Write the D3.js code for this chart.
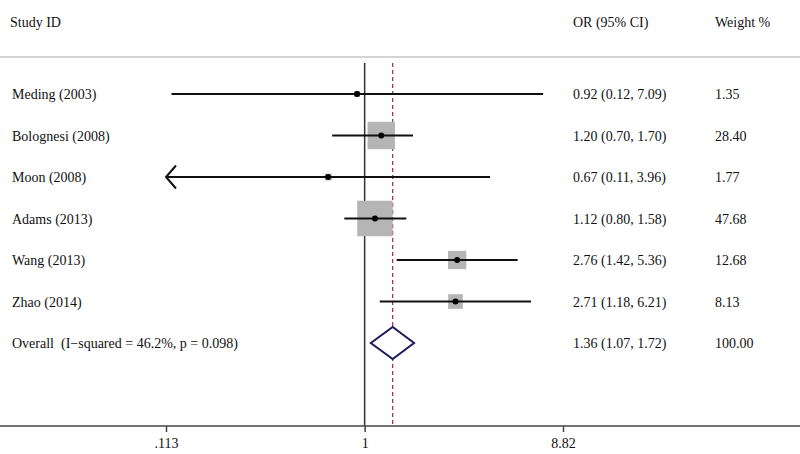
<!DOCTYPE html>
<html>
<head>
<meta charset="utf-8">
<script src="https://cdn.jsdelivr.net/npm/d3@7"></script>
<style>
  body { margin: 0; background: #fff; }
  svg { display: block; font-family: "Liberation Serif", "DejaVu Serif", serif; }
  text { fill: #111; font-size: 14px; white-space: pre; }
</style>
</head>
<body>
<svg id="chart" width="800" height="454"></svg>
<script>
// data
const studies = ["Meding (2003)", "Bolognesi (2008)", "Moon (2008)", "Adams (2013)", "Wang (2013)", "Zhao (2014)"];
const orVals  = [0.92, 1.20, 0.67, 1.12, 2.76, 2.71];
const ciLow   = [0.12, 0.70, 0.11, 0.80, 1.42, 1.18];
const ciHigh  = [7.09, 1.70, 3.96, 1.58, 5.36, 6.21];
const weights = [1.35, 28.40, 1.77, 47.68, 12.68, 8.13];
const overall = { label: "Overall  (I\u2212squared = 46.2%, p = 0.098)", or: 1.36, lo: 1.07, hi: 1.72, w: 100 };
const tickVals = [0.113, 1, 8.82];
const tickLabels = [".113", "1", "8.82"];

const svg = d3.select("#chart");
const W = 800;

const x = d3.scaleLog().domain([0.113, 8.82]).range([166, 563]);
const y = d3.scaleLinear().domain([0, studies.length]).range([94, 343]);
const box = d3.scaleSqrt().domain([0, d3.max(weights)]).range([0, 35.5]);
const fmt = d3.format(".2f");
const axisY = 426, plotTop = 63;

// header
svg.append("text").attr("x", 10).attr("y", 27).text("Study ID");
svg.append("text").attr("x", 573).attr("y", 27).text("OR (95% CI)");
svg.append("text").attr("x", 715).attr("y", 27).text("Weight %");
svg.append("line").attr("x1", 0).attr("x2", W).attr("y1", 57).attr("y2", 57)
  .attr("stroke", "#d4d4d4").attr("stroke-width", 2);

// null line and overall line
svg.append("line").attr("x1", x(1)).attr("x2", x(1)).attr("y1", plotTop).attr("y2", axisY)
  .attr("stroke", "#333").attr("stroke-width", 1.5);
svg.append("line").attr("x1", x(overall.or)).attr("x2", x(overall.or)).attr("y1", plotTop).attr("y2", axisY)
  .attr("stroke", "#9b2a4a").attr("stroke-width", 1.2).attr("stroke-dasharray", "4,3");

// study rows
const [dMin, dMax] = x.domain();
studies.forEach((name, i) => {
  const cy = y(i);
  const s = box(weights[i]);
  svg.append("rect").attr("x", x(orVals[i]) - s / 2).attr("y", cy - s / 2)
    .attr("width", s).attr("height", s).attr("fill", "#b5b5b5");
  const lo = Math.max(ciLow[i], dMin), hi = Math.min(ciHigh[i], dMax);
  svg.append("line").attr("x1", x(lo)).attr("x2", x(hi)).attr("y1", cy).attr("y2", cy)
    .attr("stroke", "#111").attr("stroke-width", 2);
  if (ciLow[i] < dMin) {
    const ax = x(dMin);
    svg.append("path").attr("d", `M${ax + 10},${cy - 11.5} L${ax},${cy} L${ax + 10},${cy + 11.5}`)
      .attr("fill", "none").attr("stroke", "#111").attr("stroke-width", 2);
  }
  svg.append("circle").attr("cx", x(orVals[i])).attr("cy", cy).attr("r", 3).attr("fill", "#000");

  svg.append("text").attr("x", 12).attr("y", cy + 5).text(name);
  svg.append("text").attr("x", 573).attr("y", cy + 5)
    .text(`${fmt(orVals[i])} (${fmt(ciLow[i])}, ${fmt(ciHigh[i])})`);
  svg.append("text").attr("x", 715).attr("y", cy + 5).text(fmt(weights[i]));
});

// overall diamond
const oy = y(studies.length);
svg.append("path")
  .attr("d", `M${x(overall.lo)},${oy} L${x(overall.or)},${oy - 16} L${x(overall.hi)},${oy} L${x(overall.or)},${oy + 16} Z`)
  .attr("fill", "#fff").attr("stroke", "#1c1c5a").attr("stroke-width", 2);
svg.append("text").attr("x", 12).attr("y", oy + 5).text(overall.label);
svg.append("text").attr("x", 573).attr("y", oy + 5)
  .text(`${fmt(overall.or)} (${fmt(overall.lo)}, ${fmt(overall.hi)})`);
svg.append("text").attr("x", 715).attr("y", oy + 5).text(fmt(overall.w));

// x axis
svg.append("line").attr("x1", 0).attr("x2", W).attr("y1", axisY).attr("y2", axisY)
  .attr("stroke", "#444").attr("stroke-width", 1.5);
const axis = d3.axisBottom(x).tickValues(tickVals).tickFormat((d, i) => tickLabels[i]).tickSize(6).tickPadding(6);
const ag = svg.append("g").attr("transform", `translate(0,${axisY})`).call(axis);
ag.select(".domain").remove();
ag.selectAll(".tick line").attr("stroke", "#444").attr("stroke-width", 1.5);
ag.selectAll(".tick text").attr("font-family", "Liberation Serif, serif").attr("font-size", 14).attr("fill", "#111");
</script>
</body>
</html>
